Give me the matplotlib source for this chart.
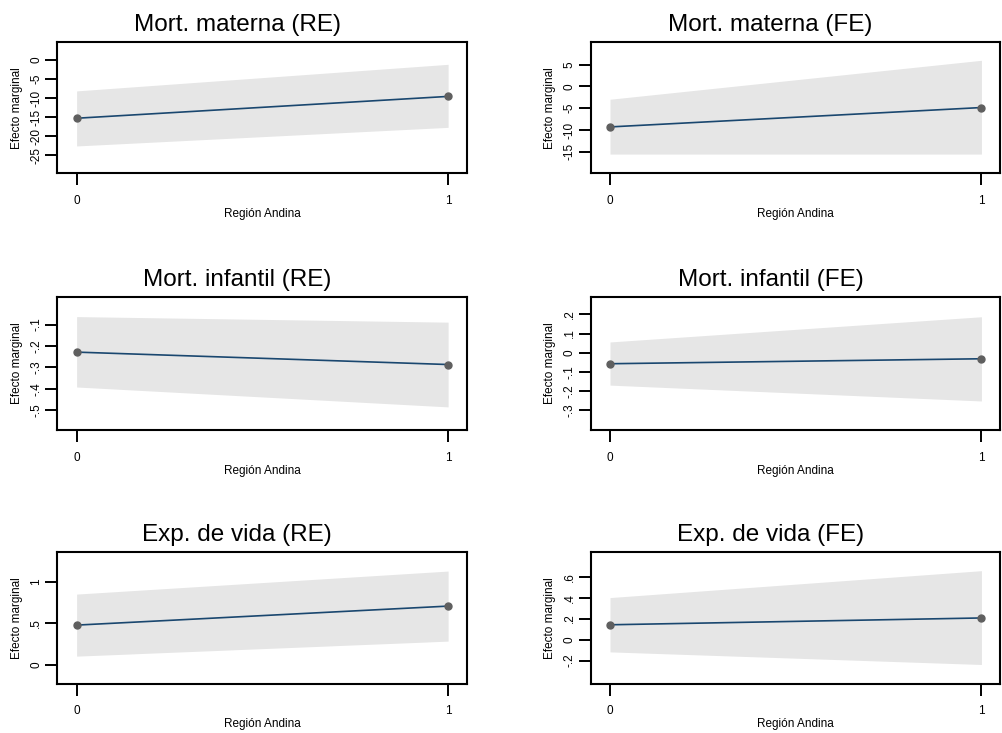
import matplotlib
matplotlib.use('Agg')
import matplotlib.pyplot as plt
from matplotlib.transforms import ScaledTranslation

plt.rcParams['font.family'] = ['Liberation Sans', 'DejaVu Sans']

# Datos
region = [0, 1]
titulos = ['Mort. materna (RE)', 'Mort. materna (FE)',
           'Mort. infantil (RE)', 'Mort. infantil (FE)',
           'Exp. de vida (RE)', 'Exp. de vida (FE)']

mm_re_est = [-15.3, -9.55]
mm_re_lo = [-22.6, -17.7]
mm_re_hi = [-8.1, -1.1]

mm_fe_est = [-9.28, -4.84]
mm_fe_lo = [-15.5, -15.5]
mm_fe_hi = [-2.94, 5.98]

mi_re_est = [-0.229, -0.287]
mi_re_lo = [-0.392, -0.485]
mi_re_hi = [-0.063, -0.089]

mi_fe_est = [-0.058, -0.032]
mi_fe_lo = [-0.170, -0.253]
mi_fe_hi = [0.056, 0.188]

ev_re_est = [0.48, 0.708]
ev_re_lo = [0.108, 0.288]
ev_re_hi = [0.852, 1.128]

ev_fe_est = [0.141, 0.206]
ev_fe_lo = [-0.117, -0.237]
ev_fe_hi = [0.40, 0.656]

estimados = [mm_re_est, mm_fe_est, mi_re_est, mi_fe_est, ev_re_est, ev_fe_est]
limites_inf = [mm_re_lo, mm_fe_lo, mi_re_lo, mi_fe_lo, ev_re_lo, ev_fe_lo]
limites_sup = [mm_re_hi, mm_fe_hi, mi_re_hi, mi_fe_hi, ev_re_hi, ev_fe_hi]

yticks = [[0, -5, -10, -15, -20, -25],
          [5, 0, -5, -10, -15],
          [-0.1, -0.2, -0.3, -0.4, -0.5],
          [0.2, 0.1, 0, -0.1, -0.2, -0.3],
          [1, 0.5, 0],
          [0.6, 0.4, 0.2, 0, -0.2]]
ytick_labels = [['0', '-5', '-10', '-15', '-20', '-25'],
                ['5', '0', '-5', '-10', '-15'],
                ['-.1', '-.2', '-.3', '-.4', '-.5'],
                ['.2', '.1', '0', '-.1', '-.2', '-.3'],
                ['1', '.5', '0'],
                ['.6', '.4', '.2', '0', '-.2']]
ylims = [(-29.8, 4.7), (-19.9, 10.1), (-0.593, 0.03),
         (-0.405, 0.293), (-0.22, 1.353), (-0.418, 0.831)]

# Posiciones de los paneles (fraccion de la figura)
W, H = 1002, 733
cols = [(57.3, 409.4), (590.7, 409.3)]
rows = [(42.3, 173.3), (296.7, 430.0), (552.3, 683.5)]

fig = plt.figure(figsize=(W / 100, H / 100), dpi=100)

for i in range(6):
    r, c = divmod(i, 2)
    x0, w = cols[c]
    top, bot = rows[r]
    ax = fig.add_axes([x0 / W, 1 - bot / H, w / W, (bot - top) / H])

    ax.fill_between(region, limites_inf[i], limites_sup[i],
                    color='#e6e6e6', linewidth=0, zorder=1)
    ax.plot(region, estimados[i], color='#1a476f', linewidth=1.2, zorder=2)
    ax.plot(region, estimados[i], 'o', color='#5f5f5f', markersize=5, zorder=3)

    ax.set_xlim(-0.052, 1.05)
    ax.set_ylim(*ylims[i])
    ax.set_xticks(region)
    ax.set_xticklabels(['0', '1'])
    ax.set_yticks(yticks[i])
    ax.set_yticklabels(ytick_labels[i], rotation=90, va='center')

    for s in ax.spines.values():
        s.set_linewidth(1.5)
        s.set_color('black')
    ax.tick_params(axis='both', direction='out', length=8.6, width=1.4,
                   labelsize=8.5, color='black')
    ax.tick_params(axis='x', pad=7)
    ax.tick_params(axis='y', pad=2.2)

    ax.set_title(titulos[i], x=0.439, pad=8, fontsize=17.5)

    ax.set_xlabel('Región Andina', fontsize=8.5)
    ax.xaxis.set_label_coords(0.5, 0, transform=ax.transAxes +
                              ScaledTranslation(0, -0.44, fig.dpi_scale_trans))
    ax.xaxis.label.set_va('baseline')

    ax.set_ylabel('Efecto marginal', fontsize=8.5)
    ax.yaxis.set_label_coords(0, 0.5, transform=ax.transAxes +
                              ScaledTranslation(-0.403, 0, fig.dpi_scale_trans))
    ax.yaxis.label.set_va('center')

plt.savefig('out.png', dpi=100)
